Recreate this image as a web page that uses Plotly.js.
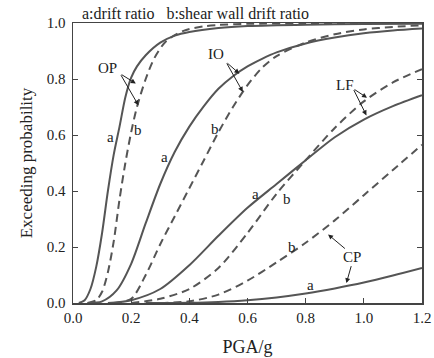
<!DOCTYPE html>
<html>
<head>
<meta charset="utf-8">
<script src="https://cdn.plot.ly/plotly-3.0.1.min.js"></script>
<style>html,body{margin:0;padding:0;background:#fff;}#chart{width:434px;height:358px;}</style>
</head>
<body>
<div id="chart"></div>
<script>
// PGA/g values and exceeding probabilities
const opA_x = [0.02, 0.04, 0.06, 0.08, 0.1, 0.12, 0.14, 0.16, 0.18, 0.2, 0.22, 0.25, 0.3, 0.35, 0.4, 0.5, 0.6, 0.8, 1.0, 1.2];
const opA_y = [0.0, 0.01, 0.05, 0.13, 0.25, 0.4, 0.53, 0.63, 0.735, 0.805, 0.845, 0.885, 0.93, 0.955, 0.968, 0.982, 0.989, 0.994, 0.996, 0.997];
const opB_x = [0.05, 0.08, 0.1, 0.12, 0.14, 0.16, 0.18, 0.2, 0.22, 0.25, 0.28, 0.32, 0.38, 0.45, 0.5, 0.6, 0.8, 1.2];
const opB_y = [0.0, 0.01, 0.04, 0.11, 0.22, 0.37, 0.5, 0.61, 0.7, 0.8, 0.875, 0.935, 0.972, 0.988, 0.993, 0.997, 0.999, 1.0];
const ioA_x = [0.05, 0.1, 0.15, 0.2, 0.25, 0.3, 0.35, 0.4, 0.45, 0.5, 0.55, 0.6, 0.65, 0.7, 0.8, 0.9, 1.0, 1.1, 1.2];
const ioA_y = [0.0, 0.006, 0.045, 0.14, 0.285, 0.425, 0.54, 0.63, 0.703, 0.765, 0.81, 0.845, 0.872, 0.895, 0.927, 0.948, 0.963, 0.973, 0.98];
const ioB_x = [0.14, 0.2, 0.25, 0.3, 0.35, 0.4, 0.45, 0.5, 0.55, 0.6, 0.65, 0.7, 0.8, 0.9, 1.0, 1.1, 1.2];
const ioB_y = [0.0, 0.015, 0.1, 0.21, 0.31, 0.41, 0.51, 0.61, 0.7, 0.778, 0.84, 0.882, 0.93, 0.96, 0.977, 0.986, 0.992];
const lfA_x = [0.12, 0.2, 0.3, 0.4, 0.5, 0.6, 0.7, 0.8, 0.9, 1.0, 1.1, 1.2];
const lfA_y = [0.0, 0.01, 0.05, 0.135, 0.24, 0.34, 0.425, 0.51, 0.592, 0.655, 0.703, 0.742];
const lfB_x = [0.2, 0.3, 0.4, 0.5, 0.6, 0.7, 0.8, 0.9, 1.0, 1.1, 1.2];
const lfB_y = [0.0, 0.015, 0.05, 0.125, 0.25, 0.39, 0.51, 0.625, 0.72, 0.788, 0.835];
const cpA_x = [0.25, 0.4, 0.5, 0.6, 0.7, 0.8, 0.9, 1.0, 1.1, 1.2];
const cpA_y = [0.0, 0.001, 0.004, 0.01, 0.02, 0.034, 0.052, 0.073, 0.098, 0.125];
const cpB_x = [0.3, 0.4, 0.5, 0.6, 0.7, 0.8, 0.9, 1.0, 1.1, 1.2];
const cpB_y = [0.0, 0.006, 0.03, 0.08, 0.145, 0.215, 0.295, 0.385, 0.475, 0.565];

const xTickVals = [0, 0.2, 0.4, 0.6, 0.8, 1.0, 1.2];
const xTickText = ['0.0', '0.2', '0.4', '0.6', '0.8', '1.0', '1.2'];
const yTickVals = [0, 0.2, 0.4, 0.6, 0.8, 1.0];
const yTickText = ['0.0', '0.2', '0.4', '0.6', '0.8', '1.0'];

const headerText = 'a:drift ratio   b:shear wall drift ratio';
const xTitle = 'PGA/g';
const yTitle = 'Exceeding probability';

// curve labels: [text, x, y]
const curveLabels = [
  ['OP', 0.117, 0.84], ['a', 0.13, 0.593], ['b', 0.225, 0.617],
  ['IO', 0.492, 0.891], ['a', 0.315, 0.521], ['b', 0.488, 0.623],
  ['LF', 0.935, 0.777], ['a', 0.626, 0.391], ['b', 0.735, 0.373],
  ['CP', 0.958, 0.164], ['a', 0.815, 0.063], ['b', 0.752, 0.2]
];
// arrows: [tailX, tailY, tipX, tipY]
const arrows = [
  [0.162, 0.819, 0.216, 0.784], [0.162, 0.819, 0.225, 0.706],
  [0.526, 0.861, 0.572, 0.819], [0.526, 0.861, 0.584, 0.754],
  [0.963, 0.766, 1.011, 0.733], [0.963, 0.766, 1.009, 0.670],
  [0.94, 0.19, 0.877, 0.245], [0.958, 0.137, 0.94, 0.071]
];

const lineColor = '#555555';
const serif = 'Liberation Serif';

function curve(x, y, dashed) {
  return {x: x, y: y, type: 'scatter', mode: 'lines', hoverinfo: 'skip',
    line: {color: lineColor, width: 2, shape: 'spline', smoothing: 0.8, dash: dashed ? '8px,5px' : 'solid'}};
}
const traces = [
  curve(opA_x, opA_y, false), curve(opB_x, opB_y, true),
  curve(ioA_x, ioA_y, false), curve(ioB_x, ioB_y, true),
  curve(lfA_x, lfA_y, false), curve(lfB_x, lfB_y, true),
  curve(cpA_x, cpA_y, false), curve(cpB_x, cpB_y, true)
];

const annotations = [];
curveLabels.forEach(l => annotations.push({x: l[1], y: l[2], xref: 'x', yref: 'y', text: l[0], showarrow: false,
  font: {family: serif, size: 15, color: '#222'}}));
arrows.forEach(a => annotations.push({x: a[2], y: a[3], ax: a[0], ay: a[1], xref: 'x', yref: 'y', axref: 'x', ayref: 'y',
  text: '', showarrow: true, arrowhead: 2, arrowsize: 1, arrowwidth: 1, arrowcolor: '#222', standoff: 0, startstandoff: 0}));
annotations.push({x: 0.02, y: 1.0, xref: 'paper', yref: 'paper', xanchor: 'left', yanchor: 'bottom', yshift: -1,
  text: headerText, showarrow: false, font: {family: serif, size: 16, color: '#222'}});

const layout = {
  width: 434, height: 358,
  margin: {l: 72.7, r: 12, t: 22.7, b: 55.3},
  paper_bgcolor: '#fff', plot_bgcolor: '#fff',
  showlegend: false,
  font: {family: serif, size: 14, color: '#222'},
  xaxis: {range: [0, 1.2], tickvals: xTickVals, ticktext: xTickText, ticks: 'inside', ticklen: 5, tickwidth: 1,
    tickcolor: '#444', showline: true, linecolor: '#444', linewidth: 1.5, mirror: true, showgrid: false, zeroline: false,
    title: {text: xTitle, font: {family: serif, size: 18, color: '#222'}, standoff: 16},
    tickfont: {family: serif, size: 15, color: '#222'}},
  yaxis: {range: [0, 1.0], tickvals: yTickVals, ticktext: yTickText, ticks: 'inside', ticklen: 5, tickwidth: 1,
    tickcolor: '#444', showline: true, linecolor: '#444', linewidth: 1.5, mirror: 'ticks', showgrid: false, zeroline: false,
    ticklabelstandoff: 3,
    title: {text: yTitle, font: {family: serif, size: 17, color: '#222'}, standoff: 10},
    tickfont: {family: serif, size: 15, color: '#222'}},
  annotations: annotations
};

Plotly.newPlot('chart', traces, layout, {displayModeBar: false, staticPlot: true});
</script>
</body>
</html>
